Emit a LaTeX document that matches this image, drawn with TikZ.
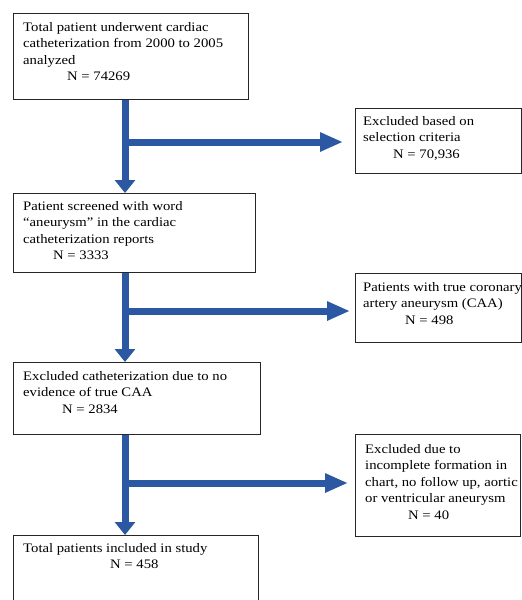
\documentclass[tikz,border=0pt]{standalone}
\usepackage{fontspec}
\setmainfont{Liberation Serif}[FakeStretch=1.13]
\usetikzlibrary{arrows.meta}
\definecolor{arrblue}{HTML}{2C57A2}
\begin{document}
\begin{tikzpicture}[x=1pt,y=-1pt,
 box/.style={draw=black!85, line width=0.9pt, fill=white, inner sep=0pt, anchor=north west},
 lbl/.style={anchor=north west, inner sep=0pt, align=left, font=\fontsize{13}{16.5}\selectfont},
 varr/.style={draw=arrblue, line width=7pt, -{Triangle[length=13pt,width=20pt]}},
 harr/.style={draw=arrblue, line width=7pt, -{Triangle[length=23pt,width=18pt]}}]
\useasboundingbox (0,0) rectangle (522,600);
\clip (0,0) rectangle (522,600);
% boxes
\node[box, minimum width=235pt, minimum height=86pt] (b1) at (13,13) {};
\node[box, minimum width=166pt, minimum height=65pt] (b2) at (355,108) {};
\node[box, minimum width=242pt, minimum height=79pt] (b3) at (13,193) {};
\node[box, minimum width=166pt, minimum height=69pt] (b4) at (355,273) {};
\node[box, minimum width=247pt, minimum height=72pt] (b5) at (13,362) {};
\node[box, minimum width=165pt, minimum height=102pt] (b6) at (355,434) {};
\node[box, minimum width=245pt, minimum height=80pt] (b7) at (13,535) {};
% texts
\node[lbl] (t1) at (23,22) {Total patient underwent cardiac\\catheterization from 2000 to 2005\\analyzed\\\hspace*{44pt}N = 74269};
\node[lbl] (t2) at (363,116) {Excluded based on\\selection criteria\\\hspace*{30pt}N = 70,936};
\node[lbl] (t3) at (23,201) {Patient screened with word\\“aneurysm” in the cardiac\\catheterization reports\\\hspace*{30pt}N = 3333};
\node[lbl] (t4) at (363,282) {Patients with true coronary\\artery aneurysm (CAA)\\\hspace*{42pt}N = 498};
\node[lbl] (t5) at (23,371) {Excluded catheterization due to no\\evidence of true CAA\\\hspace*{39pt}N = 2834};
\node[lbl] (t6) at (365,444) {Excluded due to\\incomplete formation in\\chart, no follow up, aortic\\or ventricular aneurysm\\\hspace*{43pt}N = 40};
\node[lbl] (t7) at (23,543) {Total patients included in study\\\hspace*{87pt}N = 458};
% shaft branch points
\coordinate (s1) at (125,142);
\coordinate (s2) at (125,311);
\coordinate (s3) at (125,483);
% arrows
\draw[varr] (b1.south -| s1) -- (b3.north -| s1);
\draw[harr, shorten >=12pt] (s1) -- (s1 -| b2.west);
\draw[varr] (b3.south -| s2) -- (b5.north -| s2);
\draw[harr, shorten >=5pt] (s2) -- (s2 -| b4.west);
\draw[varr] (b5.south -| s3) -- (b7.north -| s3);
\draw[harr, shorten >=7pt] (s3) -- (s3 -| b6.west);
\end{tikzpicture}
\end{document}
